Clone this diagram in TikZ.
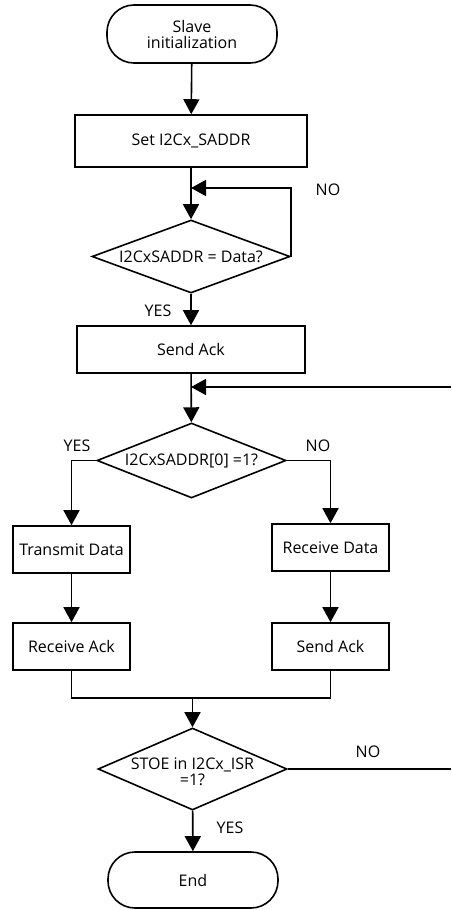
\documentclass[tikz,border=0pt]{standalone}
\usepackage{fontspec}
\setmainfont{Open Sans}
\usetikzlibrary{arrows.meta,shapes.geometric}
\begin{document}
\begin{tikzpicture}[x=1pt,y=-1pt,
  every node/.style={font=\fontsize{16}{19}\selectfont},
  line/.style={line width=1.6pt},
  arr/.style={line, -{Triangle[length=15pt,width=16pt]}},
  proc/.style={draw, line width=1.6pt, rectangle, inner sep=0pt, align=center},
  term/.style={draw, line width=1.6pt, rectangle, rounded corners=27pt, inner sep=0pt, align=center, minimum width=170pt},
  dec/.style={draw, line width=1.6pt, diamond, inner sep=0pt},
  dtext/.style={align=center, inner sep=0pt, font=\fontsize{16}{19}\selectfont},
  lbl/.style={font=\fontsize{16}{19}\selectfont}
]
\useasboundingbox (0,0) rectangle (451,910);
% nodes
\node[term, minimum height=58pt] (start) at (192,34) {Slave\\[-3pt]initialization};
\node[proc, minimum width=232pt, minimum height=52pt] (set) at (191,141) {Set I2Cx\_SADDR};
\node[dec, minimum width=198pt, minimum height=73pt,
      label={[dtext]center:I2CxSADDR = Data?}] (d1) at (191,256.5) {};
\node[proc, minimum width=228pt, minimum height=47pt] (send1) at (191,349.5) {Send Ack};
\node[dec, minimum width=189pt, minimum height=75pt,
      label={[dtext]center:I2CxSADDR[0] =1?}] (d2) at (191.5,460.5) {};
\node[proc, minimum width=117pt, minimum height=47pt] (tx) at (71.5,549.5) {Transmit Data};
\node[proc, minimum width=117pt, minimum height=47pt] (rx) at (330.5,547.5) {Receive Data};
\node[proc, minimum width=117pt, minimum height=47pt] (ra) at (71.5,646.5) {Receive Ack};
\node[proc, minimum width=117pt, minimum height=47pt] (sa) at (330.5,646.5) {Send Ack};
\node[dec, minimum width=189pt, minimum height=82pt,
      label={[dtext, yshift=-3pt]center:STOE in I2Cx\_ISR\\[-3pt]=1?}] (d3) at (192.5,769) {};
\node[term, minimum height=56pt] (end) at (193,880) {End};
% coordinates
\coordinate (j1) at (191,188);
\coordinate (j2) at (191,387);
\coordinate (r2) at (451,387);
\coordinate (m) at (192.5,698);
\coordinate (r3) at (451,769);
% connectors
\draw[arr] (start) -- (set);
\draw[arr] (set) -- (d1);
\draw[arr] (d1.east) |- (j1);
\draw[arr] (d1) -- (send1);
\draw[arr] (send1) -- (d2);
\draw[arr] (r2) -- (j2);
\draw[arr] (d2.west) -| (tx);
\draw[arr] (d2.east) -| (rx);
\draw[arr] (tx) -- (ra);
\draw[arr] (rx) -- (sa);
\draw[line] (ra) |- (m) -| (sa);
\draw[arr] (m) -- (d3);
\draw[line] (d3.east) -- (r3);
\draw[arr] (d3) -- (end);
% labels
\node[lbl] (no1) at (328,190) {NO};
\node[lbl] (yes1) at (158,311) {YES};
\node[lbl] (yes2) at (77,446) {YES};
\node[lbl] (no2) at (318,446) {NO};
\node[lbl] (no3) at (368,752) {NO};
\node[lbl] (yes3) at (230,828) {YES};
\end{tikzpicture}
\end{document}
